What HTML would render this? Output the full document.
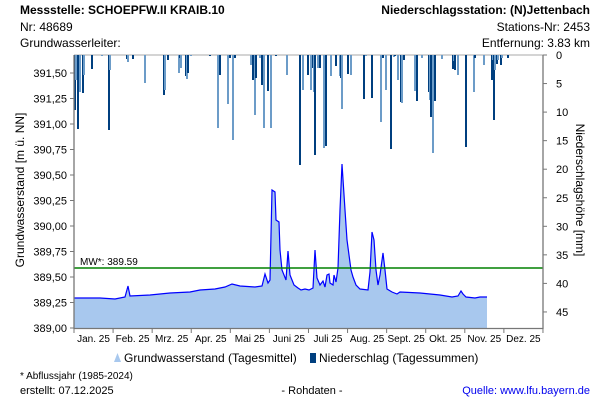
<!DOCTYPE html><html><head><style>body{margin:0;background:#fff}svg{display:block;font-family:"Liberation Sans",sans-serif}</style></head><body>
<svg width="600" height="400" xmlns="http://www.w3.org/2000/svg">
<g font-size="12" fill="#000">
<text x="20" y="14" font-weight="bold">Messstelle: SCHOEPFW.II KRAIB.10</text>
<text x="20" y="31">Nr: 48689</text>
<text x="20" y="47">Grundwasserleiter:</text>
<text x="590" y="14" text-anchor="end" font-weight="bold">Niederschlagsstation: (N)Jettenbach</text>
<text x="590" y="31" text-anchor="end">Stations-Nr: 2453</text>
<text x="590" y="47" text-anchor="end">Entfernung: 3.83 km</text>
</g>
<line x1="74" y1="55" x2="543" y2="55" stroke="#aaa"/>
<g id="bars" stroke-width="2"></g>
<polygon id="area" fill="#a8c8ee"/>
<polyline id="line" fill="none" stroke="#0000ff" stroke-width="1.2"/>
<line x1="74" y1="268" x2="543" y2="268" stroke="#008000" stroke-width="1.5"/>
<text x="80" y="265" font-size="10">MW*: 389.59</text>
<g stroke="#777" stroke-width="1.3"><line x1="74" y1="55" x2="74" y2="329"/><line x1="543" y1="55" x2="543" y2="329"/><line x1="74" y1="328.5" x2="543" y2="328.5"/></g>
<g id="ticks" stroke="#777"></g>
<g id="labels" font-size="11" fill="#000"></g>
<text transform="translate(24,190) rotate(-90)" text-anchor="middle" font-size="12">Grundwasserstand [m ü. NN]</text>
<text transform="translate(576,190) rotate(90)" text-anchor="middle" font-size="12">Niederschlagshöhe [mm]</text>
<path d="M114 362 l3.5 -9 l3.5 9 z" fill="#a8c8ee"/>
<text x="124" y="362" font-size="12">Grundwasserstand (Tagesmittel)</text>
<rect x="310" y="353" width="6" height="10" fill="#003f7f"/>
<text x="319" y="362" font-size="12">Niederschlag (Tagessummen)</text>
<text x="20" y="379" font-size="10">* Abflussjahr (1985-2024)</text>
<text x="20" y="394" font-size="11">erstellt:  07.12.2025</text>
<text x="312" y="394" font-size="11" text-anchor="middle">- Rohdaten -</text>
<text x="590" y="394" font-size="11" text-anchor="end" fill="#0000ee">Quelle: www.lfu.bayern.de</text>
<script>
var ns="http://www.w3.org/2000/svg";
function el(t,a,p,txt){var e=document.createElementNS(ns,t);for(var k in a)e.setAttribute(k,a[k]);if(txt)e.textContent=txt;document.getElementById(p).appendChild(e);}
var b=[[75,110],[76,80],[78,129],[80,92],[83,93],[84,75],[92,69],[102,56],[109,130],[110,70],[127,59],[128,62],[133,59],[145,83],[164,95],[165,90],[168,60],[179,73],[180,58],[181,68],[186,76],[187,79],[188,73],[191,56],[210,56],[218,128],[220,75],[228,104],[230,58],[233,140],[235,58],[251,65],[253,80],[255,115],[256,78],[260,58],[262,85],[264,128],[268,91],[271,128],[276,56],[287,75],[300,165],[303,90],[308,75],[311,90],[313,68],[314,92],[315,155],[318,68],[320,68],[324,148],[326,146],[331,76],[336,66],[340,76],[341,78],[342,109],[348,74],[351,75],[364,99],[366,56],[372,98],[381,122],[383,58],[386,90],[391,149],[394,57],[395,56],[398,80],[401,102],[402,103],[404,60],[415,91],[417,101],[422,58],[429,92],[430,100],[431,117],[433,153],[435,101],[442,59],[453,69],[454,61],[455,70],[458,75],[466,147],[474,92],[475,58],[484,65],[492,80],[493,60],[494,120],[495,70],[497,64],[498,60],[501,65],[502,58],[508,58]];
b.forEach(function(p,i){el("line",{x1:p[0],x2:p[0],y1:55,y2:p[1],stroke:i%2?"#6c9cc8":"#003f7f"},"bars");});
var pts=[[74,298],[100,298],[115,299],[125,297],[128,286],[130,296],[150,295],[170,293],[190,292],[200,290],[215,289],[225,287],[232,284],[240,286],[255,287],[262,286],[265,274],[268,283],[270,280],[272,190],[275,192],[276,220],[279,222],[280,250],[282,270],[286,280],[288,251],[290,275],[294,285],[298,288],[301,290],[305,289],[309,290],[313,288],[315,250],[317,278],[320,285],[323,281],[325,287],[327,275],[329,274],[330,283],[333,285],[334,275],[336,282],[338,268],[340,210],[342,164],[345,210],[347,240],[349,255],[351,270],[353,277],[356,285],[360,289],[368,290],[370,272],[372,232],[374,240],[376,270],[378,285],[380,275],[383,253],[385,270],[387,289],[392,292],[397,294],[400,292],[420,293],[440,295],[452,297],[458,296],[461,291],[463,294],[466,297],[475,298],[480,297],[487,297]];
var s=pts.map(function(p){return p.join(",")}).join(" ");
document.getElementById("line").setAttribute("points",s);
document.getElementById("area").setAttribute("points","74,328 "+s+" 487,328");
var yl=["389,00","389,25","389,50","389,75","390,00","390,25","390,50","390,75","391,00","391,25","391,50"];
yl.forEach(function(t,i){var y=328-i*25.5;el("line",{x1:70,x2:74,y1:y,y2:y},"ticks");el("text",{x:67,y:y+4,"text-anchor":"end"},"labels",t);});
for(var m=0;m<=45;m+=5){var y=55+m*5.71;el("line",{x1:543,x2:547,y1:y,y2:y},"ticks");el("text",{x:556,y:y+4},"labels",""+m);}
var mo=["Jan. 25","Feb. 25","Mrz. 25","Apr. 25","Mai 25","Juni 25","Juli 25","Aug. 25","Sept. 25","Okt. 25","Nov. 25","Dez. 25"];
for(var i=0;i<=12;i++){var x=74+i*39.08;el("line",{x1:x,x2:x,y1:328,y2:333},"ticks");if(i<12)el("text",{x:x+19.5,y:342,"text-anchor":"middle","font-size":"10"},"labels",mo[i]);}
</script>
</svg></body></html>
